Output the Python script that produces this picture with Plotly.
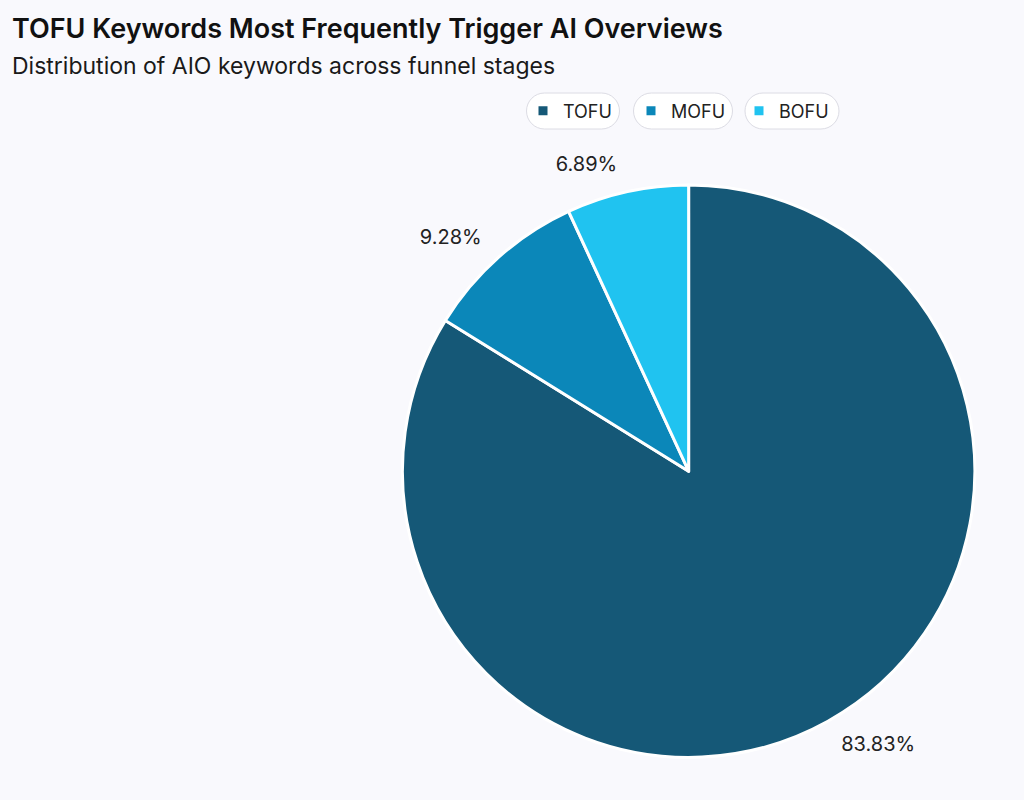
import plotly.graph_objects as go

# Funnel stage share of AIO keywords
stages = ["TOFU", "MOFU", "BOFU"]
shares = [83.83, 9.28, 6.89]
stage_colors = ["#155877", "#0b87b9", "#20c3f0"]
pct_labels = ["83.83%", "9.28%", "6.89%"]

bg = "#f9f9fd"
W, H = 1024, 800

pie_common = dict(
    labels=stages,
    values=shares,
    sort=False,
    direction="clockwise",
    rotation=0,
)

fig = go.Figure([
    # visible pie, no text
    go.Pie(
        **pie_common,
        textinfo="none",
        marker=dict(colors=stage_colors, line=dict(color="white", width=3)),
        domain=dict(x=[0.393, 0.952], y=[0.052, 0.77]),
        text=pct_labels,
        hoverinfo="label+text",
    ),
    # slightly larger transparent pie just to push the outside labels out
    go.Pie(
        **pie_common,
        text=pct_labels,
        textinfo="text",
        textposition="outside",
        textfont=dict(size=20, color="#222222", family="Inter"),
        marker=dict(colors=["rgba(0,0,0,0)"] * 3, line=dict(width=0)),
        domain=dict(x=[0.376, 0.968], y=[0.034, 0.790]),
        hoverinfo="skip",
        showlegend=False,
    ),
])

# pill outlines behind legend entries (no arcs in plotly paths -> beziers)
pill_centers = [573, 683, 792]
pill_widths = [93, 99, 94]
pill_h = 36
k = 0.5523
shapes = []
for cx, pw in zip(pill_centers, pill_widths):
    r = pill_h / 2
    hw = pw / 2 - r
    path = (f"M {-hw},{-r} L {hw},{-r} "
            f"C {hw + k * r},{-r} {hw + r},{-k * r} {hw + r},0 "
            f"C {hw + r},{k * r} {hw + k * r},{r} {hw},{r} "
            f"L {-hw},{r} "
            f"C {-hw - k * r},{r} {-hw - r},{k * r} {-hw - r},0 "
            f"C {-hw - r},{-k * r} {-hw - k * r},{-r} {-hw},{-r} Z")
    shapes.append(dict(type="path", xref="paper", yref="paper",
                       xsizemode="pixel", ysizemode="pixel",
                       xanchor=cx / W, yanchor=1 - 111 / H,
                       path=path, fillcolor="white",
                       line=dict(color="#dcdce4", width=1), layer="below"))

fig.update_layout(
    width=W,
    height=H,
    paper_bgcolor=bg,
    plot_bgcolor=bg,
    margin={"r": 0, "t": 0, "l": 0, "b": 0},
    font=dict(family="Inter", color="#111111"),
    shapes=shapes,
    annotations=[
        dict(text="TOFU Keywords Most Frequently Trigger AI Overviews",
             xref="paper", yref="paper", x=10 / W, y=1 - 28 / H,
             xanchor="left", yanchor="middle", showarrow=False,
             font=dict(size=27, color="#111111", weight=600)),
        dict(text="Distribution of AIO keywords across funnel stages",
             xref="paper", yref="paper", x=10 / W, y=1 - 66 / H,
             xanchor="left", yanchor="middle", showarrow=False,
             font=dict(size=23, color="#1a1a1a")),
    ],
    showlegend=True,
    legend=dict(
        orientation="h",
        x=(531 - 8) / W,
        xanchor="left",
        y=1 - 111 / H,
        yanchor="middle",
        font=dict(size=18, color="#222222"),
        bgcolor="rgba(0,0,0,0)",
        entrywidth=63,
        traceorder="normal",
    ),
)

fig.write_html(
    "out.html",
    config={"displayModeBar": False},
    post_script="document.body.style.margin='0';"
                "document.body.style.background='#f9f9fd';",
)
